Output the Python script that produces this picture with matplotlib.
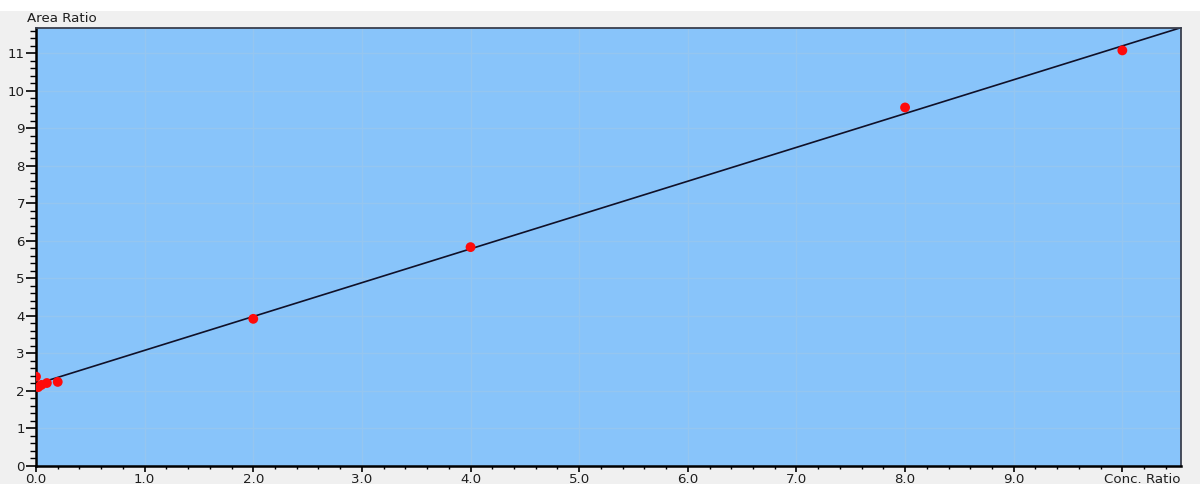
import numpy as np
import matplotlib
matplotlib.use("Agg")
import matplotlib.pyplot as plt
from matplotlib.ticker import MultipleLocator, FixedLocator
from matplotlib.patches import Rectangle

# Calibration standards: concentration ratio vs. measured area ratio
conc_ratio = [0.0, 0.02, 0.05, 0.1, 0.2, 2.0, 4.0, 8.0, 10.0]
area_ratio = [2.38, 2.10, 2.16, 2.21, 2.24, 3.92, 5.83, 9.55, 11.07]

# Linear calibration fit (slope, intercept)
fit_slope = 0.901
fit_intercept = 2.18

x_ticks = [0.0, 1.0, 2.0, 3.0, 4.0, 5.0, 6.0, 7.0, 8.0, 9.0, 10.0]
x_tick_labels = ["0.0", "1.0", "2.0", "3.0", "4.0", "5.0", "6.0", "7.0", "8.0", "9.0", ""]
y_ticks = list(range(0, 12))
y_tick_labels = [str(v) for v in y_ticks]

x_max = 10.54
y_max = 11.68

plt.rcParams["font.family"] = ["DejaVu Sans"]
FS = 9.6
TXT = "#1e1e1e"

fig = plt.figure(figsize=(12.0, 4.84), dpi=100, facecolor="#f0f0f0")
# white strip along the top of the window
fig.patches.append(Rectangle((0, 1 - 11 / 484), 1, 11 / 484, transform=fig.transFigure,
                             facecolor="white", edgecolor="none", zorder=0))

ax = fig.add_axes([36 / 1200, 18 / 484, (1181 - 36) / 1200, (466 - 27.5) / 484])
ax.set_facecolor("#88c4fa")

ax.set_xlim(0, x_max)
ax.set_ylim(0, y_max)

# faint grid on major ticks
for xv in x_ticks[1:]:
    ax.axvline(xv, color="#95c6f0", lw=1.0, zorder=0.5)
for yv in y_ticks[1:]:
    ax.axhline(yv, color="#95c6f0", lw=1.0, zorder=0.5)

# regression line
xl = np.array([conc_ratio[0], x_max])
ax.plot(xl, fit_slope * xl + fit_intercept, color="#101028", lw=1.2, zorder=2)

# standards
ax.scatter(conc_ratio, area_ratio, s=50, color="#ff0a0a", edgecolors="none", zorder=3)

ax.xaxis.set_major_locator(FixedLocator(x_ticks))
ax.set_xticklabels(x_tick_labels)
ax.xaxis.set_minor_locator(MultipleLocator(0.2))
ax.yaxis.set_major_locator(FixedLocator(y_ticks))
ax.set_yticklabels(y_tick_labels)
ax.yaxis.set_minor_locator(MultipleLocator(0.2))

ax.tick_params(axis="x", which="major", direction="out", length=4.5, width=1.2,
               pad=0.8, labelsize=FS, labelcolor=TXT, color="black")
ax.tick_params(axis="x", which="minor", direction="out", length=2.5, width=1.0, color="black")
ax.tick_params(axis="y", which="major", direction="out", length=7, width=1.2,
               pad=1.0, labelsize=FS, labelcolor=TXT, color="black")
ax.tick_params(axis="y", which="minor", direction="out", length=4, width=1.0, color="black")

for side in ("left", "bottom"):
    ax.spines[side].set_color("black")
    ax.spines[side].set_linewidth(1.8)
for side in ("top", "right"):
    ax.spines[side].set_color("#3a3f4e")
    ax.spines[side].set_linewidth(1.3)

ax.text((62 - 36) / 1145, 1.006, "Area Ratio", transform=ax.transAxes,
        ha="center", va="bottom", fontsize=FS, color=TXT)
ax.text(1.0, -0.0155, "Conc. Ratio", transform=ax.transAxes, ha="right", va="top",
        fontsize=FS, color=TXT)

fig.savefig("out.png", dpi=100, facecolor=fig.get_facecolor())
